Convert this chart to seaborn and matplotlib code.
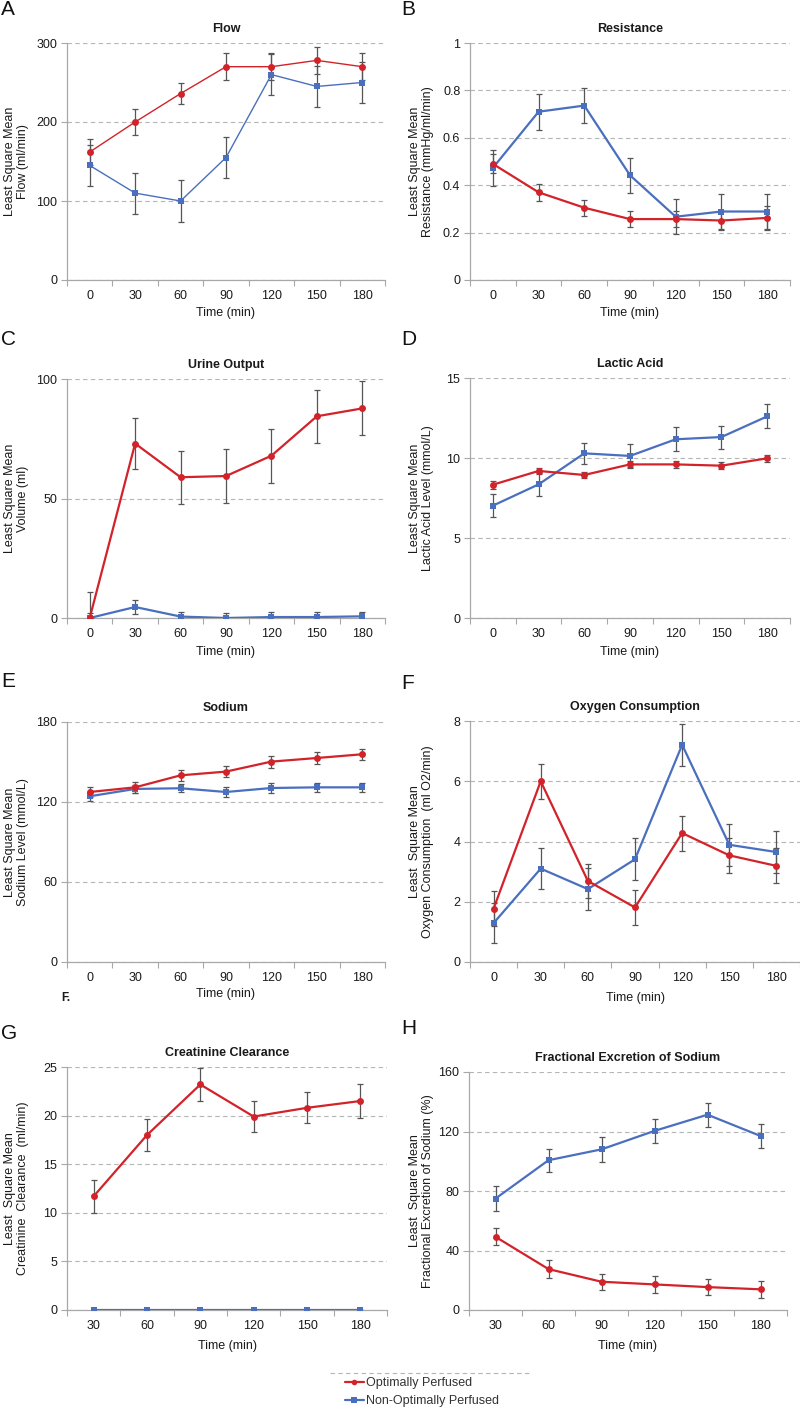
import numpy as np
import pandas as pd
import matplotlib
matplotlib.use("Agg")
import matplotlib.pyplot as plt
import seaborn as sns
from matplotlib.lines import Line2D

sns.set_theme(style="white")
plt.rcParams['font.family'] = ['Liberation Sans', 'DejaVu Sans']

OPT = "Optimally Perfused"
NON = "Non-Optimally Perfused"
RED = "#D2232A"
BLUE = "#4A6FBE"
ERR = "#555555"

times_full = [0, 30, 60, 90, 120, 150, 180]
times_short = [30, 60, 90, 120, 150, 180]

# A Flow
flow_opt = [162, 200, 236, 270, 270, 278, 270]
flow_opt_err = [16, 17, 13, 17, 17, 17, 17]
flow_non = [145, 110, 100, 155, 260, 245, 250]
flow_non_err = [26, 26, 26, 26, 26, 26, 26]

# B Resistance
res_opt = [0.49, 0.37, 0.305, 0.257, 0.257, 0.251, 0.262]
res_opt_err = [0.04, 0.035, 0.033, 0.033, 0.035, 0.04, 0.05]
res_non = [0.473, 0.71, 0.736, 0.442, 0.267, 0.289, 0.289]
res_non_err = [0.076, 0.075, 0.075, 0.074, 0.075, 0.075, 0.075]

# C Urine Output
urine_opt = [0, 73, 58.9, 59.4, 67.9, 84.4, 87.7]
urine_opt_err = [11, 10.5, 11, 11.4, 11.3, 11, 11.3]
urine_non = [0, 4.6, 0.6, 0, 0.4, 0.4, 0.7]
urine_non_err = [2, 3, 2, 2, 2, 2, 2]

# D Lactic Acid
lact_opt = [8.33, 9.19, 8.94, 9.6, 9.6, 9.52, 9.98]
lact_opt_err = [0.25, 0.2, 0.2, 0.2, 0.2, 0.2, 0.2]
lact_non = [7.02, 8.35, 10.29, 10.13, 11.17, 11.31, 12.6]
lact_non_err = [0.72, 0.7, 0.65, 0.72, 0.75, 0.72, 0.75]

# E Sodium
sod_opt = [127.5, 131, 140, 142.8, 150.3, 153, 155.8]
sod_opt_err = [3.8, 4, 4, 4, 4.5, 4.5, 4]
sod_non = [124.3, 129.8, 130.3, 127.5, 130.5, 131, 131]
sod_non_err = [3.5, 3, 3, 3.5, 3.5, 3.5, 3.5]

# F Oxygen Consumption
oxy_opt = [1.77, 6.0, 2.69, 1.81, 4.28, 3.54, 3.19]
oxy_opt_err = [0.58, 0.58, 0.57, 0.58, 0.58, 0.58, 0.58]
oxy_non = [1.29, 3.1, 2.42, 3.41, 7.21, 3.89, 3.65]
oxy_non_err = [0.67, 0.69, 0.7, 0.69, 0.7, 0.69, 0.69]

# G Creatinine Clearance
creat_opt = [11.7, 18.0, 23.2, 19.9, 20.8, 21.5]
creat_opt_err = [1.7, 1.65, 1.65, 1.6, 1.6, 1.7]
creat_non = [0, 0, 0, 0, 0, 0]
creat_non_err = [0, 0, 0, 0, 0, 0]

# H Fractional Excretion of Sodium
fena_opt = [49.2, 27.5, 19.0, 17.2, 15.4, 13.9]
fena_opt_err = [5.6, 5.8, 5.5, 5.5, 5.5, 5.5]
fena_non = [74.9, 100.7, 108.0, 120.4, 131.3, 117.0]
fena_non_err = [8.3, 7.6, 8.2, 8.3, 8.0, 8.0]

panels = [
    dict(letter="A", title="Flow", ylabel="Least Square Mean\nFlow (ml/min)", times=times_full,
         opt=flow_opt, opt_err=flow_opt_err, non=flow_non, non_err=flow_non_err,
         yticks=[0, 100, 200, 300], ylabels=["0", "100", "200", "300"],
         px=(67, 43, 385, 280), lw=1.0, xlab_y=313),
    dict(letter="B", title="Resistance", ylabel="Least Square Mean\nResistance (mmHg/ml/min)", times=times_full,
         opt=res_opt, opt_err=res_opt_err, non=res_non, non_err=res_non_err,
         yticks=[0, 0.2, 0.4, 0.6, 0.8, 1.0], ylabels=["0", "0.2", "0.4", "0.6", "0.8", "1"],
         px=(470, 43, 790, 280), lw=1.6, xlab_y=313),
    dict(letter="C", title="Urine Output", ylabel="Least Square Mean\nVolume (ml)", times=times_full,
         opt=urine_opt, opt_err=urine_opt_err, non=urine_non, non_err=urine_non_err,
         yticks=[0, 50, 100], ylabels=["0", "50", "100"],
         px=(67, 379, 385, 618), lw=1.6, xlab_y=652),
    dict(letter="D", title="Lactic Acid", ylabel="Least Square Mean\nLactic Acid Level (mmol/L)", times=times_full,
         opt=lact_opt, opt_err=lact_opt_err, non=lact_non, non_err=lact_non_err,
         yticks=[0, 5, 10, 15], ylabels=["0", "5", "10", "15"],
         px=(470, 378, 790, 618), lw=1.6, xlab_y=652),
    dict(letter="E", title="Sodium", ylabel="Least Square Mean\nSodium Level (mmol/L)", times=times_full,
         opt=sod_opt, opt_err=sod_opt_err, non=sod_non, non_err=sod_non_err,
         yticks=[0, 60, 120, 180], ylabels=["0", "60", "120", "180"],
         px=(67, 722, 385, 962), lw=1.6, xlab_y=994),
    dict(letter="F", title="Oxygen Consumption", ylabel="Least  Square Mean\nOxygen Consumption  (ml O2/min)", times=times_full,
         opt=oxy_opt, opt_err=oxy_opt_err, non=oxy_non, non_err=oxy_non_err,
         yticks=[0, 2, 4, 6, 8], ylabels=["0", "2", "4", "6", "8"],
         px=(470, 721, 800, 962), lw=1.6, xlab_y=998),
    dict(letter="G", title="Creatinine Clearance", ylabel="Least  Square Mean\nCreatinine  Clearance  (ml/min)", times=times_short,
         opt=creat_opt, opt_err=creat_opt_err, non=creat_non, non_err=creat_non_err,
         yticks=[0, 5, 10, 15, 20, 25], ylabels=["0", "5", "10", "15", "20", "25"],
         px=(67, 1067, 387, 1310), lw=1.6, xlab_y=1346),
    dict(letter="H", title="Fractional Excretion of Sodium", ylabel="Least  Square Mean\nFractional Excretion of Sodium (%)", times=times_short,
         opt=fena_opt, opt_err=fena_opt_err, non=fena_non, non_err=fena_non_err,
         yticks=[0, 40, 80, 120, 160], ylabels=["0", "40", "80", "120", "160"],
         px=(469, 1072, 787, 1310), lw=1.6, xlab_y=1346),
]

W, H = 800, 1411
fig = plt.figure(figsize=(W / 100, H / 100), dpi=100)
FS = 9
GRAY = "#A8A8A8"
TXT = "#1a1a1a"

letter_pos = {"A": (1, 0), "B": (401, 0), "C": (1, 330), "D": (401, 330),
              "E": (1, 672), "F": (401, 674), "G": (1, 1024), "H": (401, 1019)}

for p in panels:
    l, t, r, b = p["px"]
    ax = fig.add_axes([l / W, 1 - b / H, (r - l) / W, (b - t) / H])
    n = len(p["times"])
    pos = list(range(n))
    df = pd.DataFrame({
        "pos": pos + pos,
        "value": list(p["non"]) + list(p["opt"]),
        "group": [NON] * n + [OPT] * n,
    })
    ax.errorbar(pos, p["non"], yerr=p["non_err"], fmt="none", ecolor=ERR, elinewidth=0.9,
                capsize=2, capthick=0.9, zorder=2)
    ax.errorbar(pos, p["opt"], yerr=p["opt_err"], fmt="none", ecolor=ERR, elinewidth=0.9,
                capsize=2, capthick=0.9, zorder=2)
    sns.lineplot(data=df, x="pos", y="value", hue="group", style="group",
                 hue_order=[NON, OPT], style_order=[NON, OPT],
                 palette={OPT: RED, NON: BLUE}, markers={OPT: "o", NON: "s"},
                 dashes=False, linewidth=p["lw"], markersize=5, markeredgewidth=0,
                 legend=False, ax=ax, zorder=3)
    ax.set_xlim(-0.5, n - 0.5)
    ax.set_ylim(p["yticks"][0], p["yticks"][-1])
    ax.set_xticks(pos)
    ax.set_xticklabels([str(v) for v in p["times"]])
    ax.set_xticks([i - 0.5 for i in range(n + 1)], minor=True)
    ax.set_yticks(p["yticks"])
    ax.set_yticklabels(p["ylabels"])
    ax.tick_params(axis="x", which="major", length=0, pad=7, labelsize=FS, labelcolor=TXT)
    ax.tick_params(axis="x", which="minor", length=4, width=0.8, color=GRAY, direction="out", bottom=True)
    ax.tick_params(axis="y", which="major", length=4, width=0.8, color=GRAY, direction="out",
                   left=True, pad=3, labelsize=FS, labelcolor=TXT)
    for s in ["top", "right"]:
        ax.spines[s].set_visible(False)
    for s in ["left", "bottom"]:
        ax.spines[s].set_color(GRAY)
        ax.spines[s].set_linewidth(0.9)
    ax.yaxis.grid(True, linestyle=(0, (4, 3)), color="#B5B5B5", linewidth=0.8)
    ax.set_axisbelow(True)
    ax.set_title(p["title"], fontsize=FS, fontweight="bold", pad=8, color=TXT)
    ax.set_xlabel("")
    ax.set_ylabel(p["ylabel"], fontsize=FS, color=TXT, linespacing=1.1)
    if l < 400:
        ax.yaxis.set_label_coords((29 - l) / (r - l), 0.5)
    else:
        ax.yaxis.set_label_coords((434 - l) / (r - l), 0.5)
    fig.text((l + r) / 2 / W, 1 - p["xlab_y"] / H, "Time (min)", ha="center", va="center",
             fontsize=FS, color=TXT)
    lx, ly = letter_pos[p["letter"]]
    fig.text(lx / W, 1 - ly / H, p["letter"], ha="left", va="top", fontsize=15, color="#111111")

fig.text(61 / W, 1 - 998 / H, "F.", ha="left", va="center", fontsize=8.5, fontweight="bold", color=TXT)

# legend
fig.add_artist(Line2D([330 / W, 530 / W], [1 - 1373 / H] * 2, transform=fig.transFigure,
                      color="#B5B5B5", linestyle=(0, (4, 3)), linewidth=0.8))
handles = [Line2D([0], [0], color=RED, marker="o", markersize=4, markeredgewidth=0, linewidth=1.6),
           Line2D([0], [0], color=BLUE, marker="s", markersize=4, markeredgewidth=0, linewidth=1.6)]
leg = fig.legend(handles, [OPT, NON], loc="upper left", bbox_to_anchor=(345 / W, 1 - 1377 / H),
                 frameon=False, fontsize=FS, handlelength=1.5, handletextpad=0.2,
                 labelspacing=0.5, borderpad=0, borderaxespad=0)
for t in leg.get_texts():
    t.set_color("#333333")

fig.savefig("out.png", dpi=100, facecolor="white")
